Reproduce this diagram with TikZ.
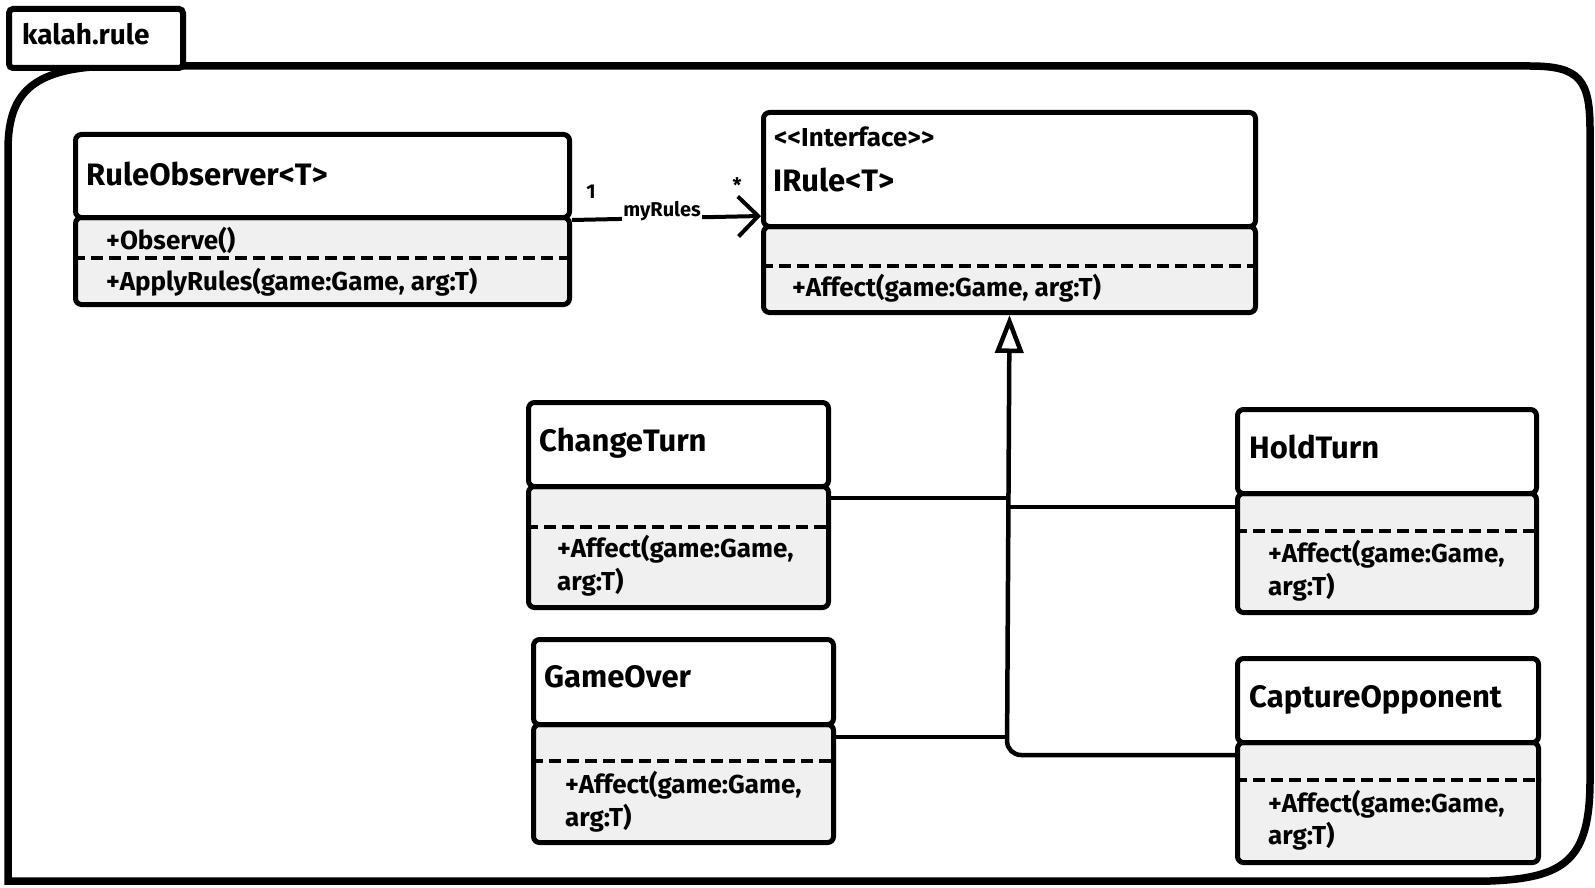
\documentclass[tikz,border=0pt]{standalone}
\usepackage{fontspec}
\setmainfont{Fira Sans}
\newfontfamily\hand{Fira Sans}
\usetikzlibrary{arrows.meta}
\definecolor{compfill}{HTML}{F0F0F0}
\begin{document}
\begin{tikzpicture}[x=1pt,y=-1pt,
  box/.style={draw, line width=5pt, rounded corners=6pt, inner sep=0pt, anchor=north west},
  hdr/.style={box, fill=white},
  bdy/.style={box, fill=compfill},
  sep/.style={line width=4pt, dash pattern=on 12pt off 6pt},
  txt/.style={anchor=mid west, inner sep=0pt, yshift=-8pt},
  cname/.style={txt, font=\hand\bfseries\fontsize{31}{31}\selectfont},
  meth/.style={txt, font=\hand\bfseries\fontsize{26}{26}\selectfont},
  conn/.style={line width=4pt},
  lbl/.style={inner sep=1pt, font=\hand\bfseries\fontsize{20}{20}\selectfont},
]
\useasboundingbox (0,0) rectangle (1595,888);

% package frame
\draw[line width=7.5pt] (8,881) -- (8,150) .. controls (8,95) and (30,68) .. (110,66)
  -- (1530,66) .. controls (1580,66) and (1590,80) .. (1590,130)
  -- (1590,780) .. controls (1590,860) and (1565,878) .. (1490,881) -- cycle;
\node[draw, fill=white, line width=6pt, rounded corners=4pt, minimum width=174pt,
  minimum height=59pt, anchor=north west] (tab) at (6,6) {};
\node[txt, font=\hand\bfseries\fontsize{28}{28}\selectfont] (tabt) at (22,34) {kalah.rule};

% RuleObserver
\node[bdy, minimum width=494pt, minimum height=87pt] (ro-b) at (73,215) {};
\node[hdr, minimum width=494pt, minimum height=83pt] (ro-h) at (73,132) {};
\draw[sep] ([yshift=-43pt]ro-b.north west) -- ([yshift=-43pt]ro-b.north east);
\node[cname] (ro-n) at (86,175) {RuleObserver<T>};
\node[meth] (ro-m1) at (106,239) {+Observe()};
\node[meth] (ro-m2) at (106,280) {+ApplyRules(game:Game, arg:T)};

% IRule
\node[bdy, minimum width=492pt, minimum height=86pt] (ir-b) at (761,224) {};
\node[hdr, minimum width=492pt, minimum height=114pt] (ir-h) at (761,110) {};
\draw[sep] ([yshift=-42pt]ir-b.north west) -- ([yshift=-42pt]ir-b.north east);
\node[txt, font=\hand\bfseries\fontsize{26}{26}\selectfont] (ir-s) at (774,136) {<<Interface>>};
\node[cname] (ir-n) at (773,181) {IRule<T>};
\node[meth] (ir-m) at (792,286) {+Affect(game:Game, arg:T)};

% ChangeTurn
\node[bdy, minimum width=300pt, minimum height=121pt] (ct-b) at (526,484) {};
\node[hdr, minimum width=300pt, minimum height=84pt] (ct-h) at (526,400) {};
\draw[sep] ([yshift=-43pt]ct-b.north west) -- ([yshift=-43pt]ct-b.north east);
\node[cname] (ct-n) at (539,441) {ChangeTurn};
\node[meth] (ct-m1) at (557,547) {+Affect(game:Game,};
\node[meth] (ct-m2) at (557,580) {arg:T)};

% GameOver
\node[bdy, minimum width=300pt, minimum height=118pt] (go-b) at (531,722) {};
\node[hdr, minimum width=300pt, minimum height=85pt] (go-h) at (531,637) {};
\draw[sep] ([yshift=-39pt]go-b.north west) -- ([yshift=-39pt]go-b.north east);
\node[cname] (go-n) at (544,677) {GameOver};
\node[meth] (go-m1) at (565,783) {+Affect(game:Game,};
\node[meth] (go-m2) at (565,816) {arg:T)};

% HoldTurn
\node[bdy, minimum width=299pt, minimum height=119pt] (ht-b) at (1235,491) {};
\node[hdr, minimum width=299pt, minimum height=84pt] (ht-h) at (1235,407) {};
\draw[sep] ([yshift=-40pt]ht-b.north west) -- ([yshift=-40pt]ht-b.north east);
\node[cname] (ht-n) at (1249,448) {HoldTurn};
\node[meth] (ht-m1) at (1268,552) {+Affect(game:Game,};
\node[meth] (ht-m2) at (1268,585) {arg:T)};

% CaptureOpponent
\node[bdy, minimum width=301pt, minimum height=120pt] (co-b) at (1235,740) {};
\node[hdr, minimum width=301pt, minimum height=84pt] (co-h) at (1235,656) {};
\draw[sep] ([yshift=-40pt]co-b.north west) -- ([yshift=-40pt]co-b.north east);
\node[cname] (co-n) at (1249,697) {CaptureOpponent};
\node[meth] (co-m1) at (1268,802) {+Affect(game:Game,};
\node[meth] (co-m2) at (1268,834) {arg:T)};

% association
\draw[conn, -{Straight Barb[length=20pt, width=40pt]}] (ro-h.south east) -- ([yshift=13pt]ir-h.south west);
\node[lbl, fill=white] (lmy) at (662,211) {myRules};
\node[lbl] (l1) at (591,192) {1};
\node[lbl] (lstar) at (737,185) {*};

% generalization
\coordinate (tb) at (1007,755);
\coordinate (ctj) at (1007,498);
\coordinate (goj) at (1007,737);
\coordinate (htj) at (1007,507);
\draw[conn, line width=4.5pt, rounded corners=14pt, {Triangle[open, length=38pt, width=28pt]}-]
  (ir-b.south) -- (tb) -- ([yshift=-15pt]co-b.north west);
\draw[conn] ([yshift=-14pt]ct-b.north east) -- (ctj);
\draw[conn] ([yshift=-15pt]go-b.north east) -- (goj);
\draw[conn] ([yshift=-16pt]ht-b.north west) -- (htj);
\end{tikzpicture}
\end{document}
